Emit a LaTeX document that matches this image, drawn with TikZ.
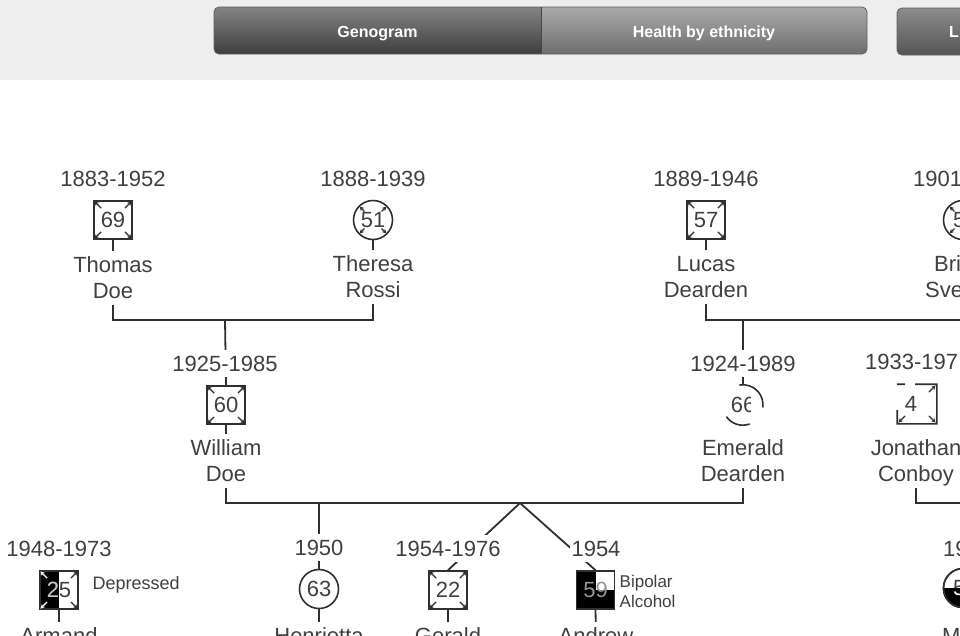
\documentclass[tikz,border=0pt]{standalone}
\usepackage{fontspec}
\setmainfont{Liberation Sans}
\usetikzlibrary{calc,arrows.meta}
\pgfdeclarelayer{fg}
\pgfsetlayers{main,fg}
\definecolor{lnc}{RGB}{48,48,48}
\definecolor{txtc}{RGB}{64,64,64}
\definecolor{bandc}{RGB}{238,238,238}
\newcommand\tf{\fontsize{22}{26}\selectfont}
\newcommand\crnarrows[3][lnc]{%
  \foreach \aa in {#3}{\draw[carrow,draw=#1,fill=#1] ($(#2.center)!0.6!(#2.\aa)$) -- ($(#2.center)!0.94!(#2.\aa)$);}}
\begin{document}
\begin{tikzpicture}[x=1pt,y=-1pt,
  male/.style={rectangle, draw=lnc, line width=1.6pt, fill=white, minimum size=38pt, inner sep=0pt, font=\tf, text=txtc},
  female/.style={circle, draw=lnc, line width=1.6pt, fill=white, minimum size=39pt, inner sep=0pt, font=\tf, text=txtc},
  conn/.style={draw=lnc, line width=1.8pt},
  symline/.style={draw=lnc, line width=1.6pt},
  carrow/.style={line width=1.1pt, -{Stealth[length=4.5pt,width=4.5pt]}},
  lbl/.style={font=\tf, text=txtc, fill=white, inner xsep=2pt, inner ysep=5.5pt, text height=16pt, text depth=1pt, anchor=base},
  yr/.style={lbl, inner ysep=6pt, text height=15.5pt, text depth=0pt},
  note/.style={font=\fontsize{18}{20}\selectfont, text=txtc, inner sep=0pt, anchor=base west},
  btn/.style={font=\bfseries\fontsize{16}{16}\selectfont, text=white, inner sep=0pt, anchor=base},
  num/.style={font=\tf, text=txtc, inner sep=0pt, text height=15.5pt, text depth=0pt}
]
\useasboundingbox (0,0) rectangle (960,635);
\clip (0,0) rectangle (960,635);
\fill[white] (0,0) rectangle (960,635);
% top band and buttons
\fill[bandc] (0,0) rectangle (960,80);
\begin{scope}
  \clip[rounded corners=5pt] (214,7) rectangle (867,54);
  \shade[top color={rgb,255:red,132;green,132;blue,132}, bottom color={rgb,255:red,62;green,62;blue,62}] (214,7) rectangle (541,54);
  \shade[top color={rgb,255:red,170;green,170;blue,170}, bottom color={rgb,255:red,110;green,110;blue,110}] (541,7) rectangle (867,54);
\end{scope}
\draw[line width=0.8pt, draw={rgb,255:red,95;green,95;blue,95}, rounded corners=5pt] (214,7) rectangle (867,54);
\draw[line width=0.6pt, draw={rgb,255:red,70;green,70;blue,70}] (541,7) -- (541,54);
\begin{scope}
  \clip[rounded corners=5pt] (897,8) rectangle (990,55);
  \shade[top color={rgb,255:red,140;green,140;blue,140}, bottom color={rgb,255:red,85;green,85;blue,85}] (897,8) rectangle (990,55);
\end{scope}
\draw[line width=0.8pt, draw={rgb,255:red,95;green,95;blue,95}, rounded corners=5pt] (897,8) rectangle (990,55);
\node[btn] (bt1) at (377.5,37) {Genogram};
\node[btn] (bt2) at (704,37) {Health by ethnicity};
\node[btn, anchor=base west] (bt3) at (949,37) {L};

% ---------- symbols ----------
\node[male] (thomas) at (113,220) {69};
\crnarrows{thomas}{45,135,225,315}
\node[female] (theresa) at (373,220) {51};
\crnarrows{theresa}{45,135,225,315}
\node[male] (lucas) at (706,220) {57};
\crnarrows{lucas}{45,135,225,315}
\node[female] (brigit) at (963,220) {};
\node[num, anchor=west] (brigitnum) at (953,220) {5};
\crnarrows{brigit}{45,135,225,315}
\node[male] (william) at (226,405) {60};
\crnarrows{william}{45,135,225,315}

% Emerald (partly drawn)
\node[female, draw=none] (emerald) at (743,405) {66};
\fill[white] (751,392) rectangle (765,419);
\draw[symline] (emerald.100) arc[start angle=100, end angle=-8, radius=20pt];
\draw[symline] (emerald.215) arc[start angle=215, end angle=290, radius=20pt];

% Jonathan (partly drawn)
\node[male, draw=none, fill=none] (jonathan) at (917,404) {};
\node[num] (jonnum) at (911,404) {4};
\draw[symline] (jonathan.north west) -- ($(jonathan.north west)!0.2!(jonathan.north east)$);
\draw[symline] ($(jonathan.north west)!0.45!(jonathan.north east)$) -- (jonathan.north east) -- (jonathan.south east) -- (jonathan.south west) -- ($(jonathan.south west)!0.35!(jonathan.north west)$);
\crnarrows{jonathan}{45,225,315}

% Armand
\node[male] (armand) at (59,590) {};
\fill[black] (armand.north west) rectangle (armand.south);
\node[num] (armandnum) at (armand) {25};
\begin{scope}
  \clip (armand.north west) rectangle (armand.south);
  \node[num, text={rgb,255:red,200;green,200;blue,200}] (armandnumw) at (armand) {25};
\end{scope}
\node[male, fill=none] (armandb) at (armand) {};
\crnarrows[white]{armand}{135,225}
\crnarrows{armand}{45,315}

\node[female] (henrietta) at (319,589) {63};
\node[male] (gerald) at (448,590) {22};
\crnarrows{gerald}{45,135,225,315}

% Andrew
\node[male] (andrew) at (595.5,590) {};
\fill[black] (andrew.north west) rectangle (andrew.south east);
\fill[white] (andrew.north) rectangle (andrew.east);
\node[male, fill=none] (andrewb) at (andrew) {};
\node[num, text={rgb,255:red,150;green,150;blue,150}] (andrewnum) at (andrew) {59};

% bottom right
\node[female] (mchild) at (963,588) {};
\fill[black] (mchild.west) arc[start angle=180, end angle=360, radius=20.3pt] -- cycle;
\node[num, anchor=west] (mchildnum) at (953,588) {5};
\begin{scope}
  \clip (mchild.west) arc[start angle=180, end angle=360, radius=20.3pt] -- cycle;
  \node[num, anchor=west, text=white] (mchildnumw) at (953,588) {5};
\end{scope}
\node[female, fill=none] (mchildb) at (mchild) {};

% ---------- text ----------
\begin{pgfonlayer}{fg}
\node[yr] (y1) at (113,186) {1883-1952};
\node[yr] (y2) at (373,186) {1888-1939};
\node[yr] (y3) at (706,186) {1889-1946};
\node[yr, anchor=base west] (y4) at (911,186) {1901};
\node[yr] (y5) at (225,371) {1925-1985};
\node[yr] (y6) at (743,371) {1924-1989};
\node[yr, anchor=base west] (y7) at (863,369) {1933-197};
\node[yr] (y8) at (59,556) {1948-1973};
\node[yr] (y9) at (319,555) {1950};
\node[yr] (y10) at (448,556) {1954-1976};
\node[yr] (y11) at (596,556) {1954};
\node[yr, anchor=base west] (y12) at (941,556) {19};

\node[lbl] (thomasa) at (113,272) {Thomas};
\node[lbl] (thomasb) at (113,298) {Doe};
\node[lbl] (theresaa) at (373,271) {Theresa};
\node[lbl] (theresab) at (373,297) {Rossi};
\node[lbl] (lucasa) at (706,271) {Lucas};
\node[lbl] (lucasb) at (706,297) {Dearden};
\node[lbl, anchor=base west] (brigita) at (932,271) {Brig};
\node[lbl, anchor=base west] (brigitb) at (923,297) {Sve};
\node[lbl] (williama) at (226,455) {William};
\node[lbl] (williamb) at (226,481) {Doe};
\node[lbl] (emeralda) at (743,455) {Emerald};
\node[lbl] (emeraldb) at (743,481) {Dearden};
\node[lbl] (jonathana) at (916,455) {Jonathan};
\node[lbl] (jonathanb) at (916,481) {Conboy};
\node[lbl] (armandn) at (59,643) {Armand};
\node[lbl] (henriettan) at (319,643) {Henrietta};
\node[lbl] (geraldn) at (448,643) {Gerald};
\node[lbl] (andrewn) at (596,643) {Andrew};
\node[lbl, anchor=base west] (mchildn) at (940,643) {Ma};

\node[note] (dep) at (92.5,589) {Depressed};
\node[note, font=\fontsize{17}{20}\selectfont] (bip) at (619.5,587) {Bipolar};
\node[note, font=\fontsize{17}{20}\selectfont] (alc) at (619.5,607) {Alcohol};
\end{pgfonlayer}

% ---------- connectors ----------
\coordinate (m1) at (225,320);
\coordinate (m3) at (743,320);
\coordinate (m2) at (520,503);
\coordinate (c2) at (319,503);
\coordinate (m4) at (990,503);

\draw[conn] (thomas.south) |- (m1) -| (theresa.south);
\draw[conn] (m1) -- (william.north);
\draw[conn] (lucas.south) |- (m3) -| (brigit.south);
\draw[conn] (m3) -- (emerald.north);
\draw[conn] (william.south) |- (m2) -| (emeraldb.center);
\draw[conn] (jonathanb.center) |- (m4);
\draw[conn] (c2) -- (henrietta.north);
\draw[conn] (m2) -- (gerald.north);
\draw[conn] (m2) -- (andrew.north);
\draw[conn] (armand.south) -- (armandn.center);
\draw[conn] (henrietta.south) -- (henriettan.center);
\draw[conn] (gerald.south) -- (geraldn.center);
\draw[conn] (andrew.south) -- (andrewn.center);
\draw[conn] (mchild.south) -- (mchildn.south);
\end{tikzpicture}
\end{document}
